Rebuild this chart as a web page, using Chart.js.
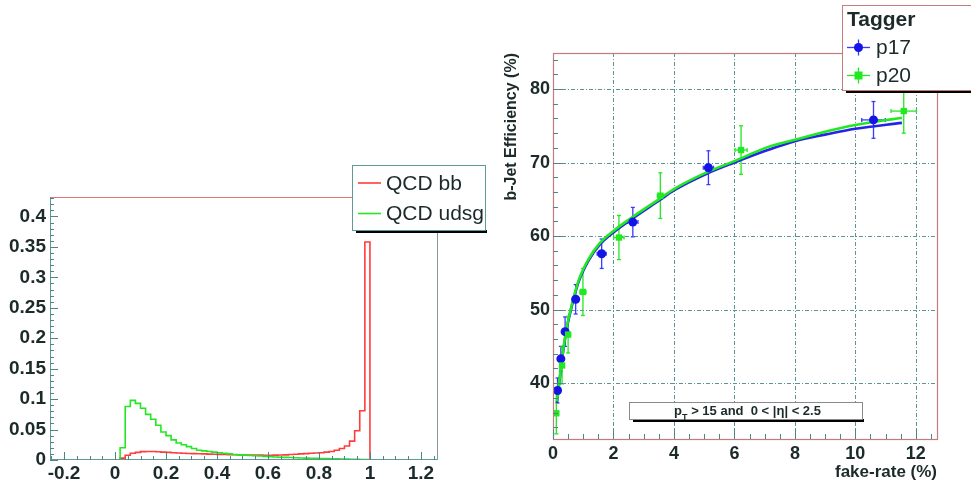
<!DOCTYPE html>
<html>
<head>
<meta charset="utf-8">
<title>b-tagging: NN output and b-jet efficiency vs fake-rate</title>
<script src="https://cdn.jsdelivr.net/npm/chart.js@4"></script>
<style>
    html, body { margin: 0; padding: 0; background: #fff; }
    #wrap { position: relative; width: 971px; height: 485px; overflow: hidden; }
    #histChart { position: absolute; left: 0; top: 0; }
    #effChart { position: absolute; left: 490px; top: 0; }
</style>
</head>
<body>
<div id="wrap">
    <canvas id="histChart" width="490" height="485"></canvas>
    <canvas id="effChart" width="481" height="485"></canvas>
</div>
<script>
// ---- left panel: NN output histograms (bins of 0.02, first bin starts at 0.02) ----
const BIN_LOW = 0.02;
const BIN_WIDTH = 0.02;
const HIST_X_MIN = -0.255;
const HIST_X_MAX = 1.263;
const HIST_Y_MAX = 0.432;

const BB_VALUES = [
    0.003, 0.0077, 0.011, 0.0126, 0.0137, 0.014, 0.014, 0.0135, 0.013, 0.0125,
    0.012, 0.0115, 0.011, 0.0108, 0.0105, 0.0102, 0.010, 0.0097, 0.0095, 0.0092,
    0.009, 0.0088, 0.0086, 0.0084, 0.0082, 0.0081, 0.008, 0.008, 0.0079, 0.0079,
    0.008, 0.0082, 0.0085, 0.009, 0.0095, 0.010, 0.0105, 0.011, 0.0115, 0.012,
    0.013, 0.014, 0.016, 0.019, 0.023, 0.031, 0.048, 0.081, 0.358
];
const UDSG_VALUES = [
    0.020, 0.088, 0.098, 0.093, 0.085, 0.075, 0.067, 0.057, 0.046, 0.040,
    0.033, 0.028, 0.025, 0.022, 0.019, 0.016, 0.015, 0.014, 0.013, 0.012,
    0.011, 0.010, 0.009, 0.0085, 0.008, 0.0075, 0.007, 0.0065, 0.006, 0.0055,
    0.005, 0.0046, 0.0043, 0.004, 0.0037, 0.0034, 0.0031, 0.0029, 0.0027, 0.0025,
    0.0023, 0.0021, 0.0019, 0.0017, 0.0015, 0.0013, 0.0011, 0.0009, 0.0006
];
const HIST_X_TICKS = [-0.2, 0, 0.2, 0.4, 0.6, 0.8, 1, 1.2];
const HIST_X_LABELS = ['-0.2', '0', '0.2', '0.4', '0.6', '0.8', '1', '1.2'];
const HIST_Y_TICKS = [0, 0.05, 0.1, 0.15, 0.2, 0.25, 0.3, 0.35, 0.4];
const HIST_Y_LABELS = ['0', '0.05', '0.1', '0.15', '0.2', '0.25', '0.3', '0.35', '0.4'];

// ---- right panel: b-jet efficiency vs fake-rate ----
const P17_X = [0.15, 0.26, 0.40, 0.75, 1.61, 2.64, 5.14, 10.6];
const P17_Y = [39.0, 43.3, 47.0, 51.4, 57.6, 61.9, 69.3, 75.8];
const P17_EX = [0.05, 0.06, 0.08, 0.10, 0.15, 0.17, 0.17, 0.39];
const P17_EY = [1.7, 1.7, 2.0, 2.0, 2.0, 2.0, 2.3, 2.5];

const P20_X = [0.11, 0.30, 0.50, 0.99, 2.18, 3.55, 6.22, 11.6];
const P20_Y = [35.9, 42.4, 46.6, 52.4, 59.8, 65.5, 71.7, 77.0];
const P20_EX = [0.04, 0.06, 0.08, 0.10, 0.17, 0.10, 0.20, 0.42];
const P20_EY = [2.8, 2.5, 2.5, 3.2, 3.0, 3.1, 3.3, 3.0];

const FIT_X = [0.13, 0.24, 0.35, 0.46, 0.63, 0.85, 1.18, 1.56, 2.0, 2.6, 3.5, 4.0, 5.1, 6.0, 7.1, 8.0, 9.0, 10.0, 11.54];
const FIT_P17 = [37.3, 41.2, 44.7, 47.5, 50.6, 53.8, 56.7, 58.9, 60.5, 62.3, 64.8, 66.2, 68.5, 70.0, 71.7, 72.9, 73.8, 74.6, 75.4];
const FIT_P20 = [37.5, 41.4, 44.9, 47.7, 50.8, 54.0, 56.9, 59.1, 60.7, 62.5, 65.0, 66.4, 68.7, 70.2, 72.1, 73.1, 74.2, 75.1, 76.1];

const EFF_X_MIN = 0;
const EFF_X_MAX = 12.7;
const EFF_Y_MIN = 32.4;
const EFF_Y_MAX = 84.9;
const EFF_X_TICKS = [0, 2, 4, 6, 8, 10, 12];
const EFF_X_LABELS = ['0', '2', '4', '6', '8', '10', '12'];
const EFF_Y_TICKS = [40, 50, 60, 70, 80];
const EFF_Y_LABELS = ['40', '50', '60', '70', '80'];

const FONT = '"Liberation Sans", Arial, Helvetica, sans-serif';
const TEXT_COLOR = '#1c2a2a';
const RED = '#ff3c3c';
const GREEN = '#22e822';
const BLUE = '#1414e6';

/** bin contents -> step outline points, with the empty range drawn along zero */
function histPoints(values) {
    const pts = [{ x: HIST_X_MIN, y: 0 }];
    values.forEach((v, i) => pts.push({ x: BIN_LOW + i * BIN_WIDTH, y: v }));
    pts.push({ x: BIN_LOW + values.length * BIN_WIDTH, y: 0 });
    pts.push({ x: HIST_X_MAX, y: 0 });
    return pts;
}

function zip(xs, ys) {
    return xs.map((x, i) => ({ x, y: ys[i] }));
}

function line(ctx, x1, y1, x2, y2) {
    ctx.beginPath();
    ctx.moveTo(x1, y1);
    ctx.lineTo(x2, y2);
    ctx.stroke();
}

/** white box with the ROOT style black shadow underneath */
function shadowBox(ctx, x, y, w, h, border) {
    ctx.fillStyle = '#000';
    ctx.fillRect(x + 4, y + h, w - 2, 3);
    ctx.fillStyle = '#fff';
    ctx.fillRect(x, y, w, h);
    ctx.strokeStyle = border;
    ctx.lineWidth = 1;
    ctx.strokeRect(x + 0.5, y + 0.5, w, h);
}

/** inward tick marks along bottom and left axes */
function drawTicks(ctx, chart, cfg) {
    const { left, bottom } = chart.chartArea;
    const xs = chart.scales.x;
    const ys = chart.scales.y;
    ctx.strokeStyle = cfg.color;
    ctx.lineWidth = 1;
    for (let k = 0; ; k++) {
        const v = cfg.x.from + k * cfg.x.minor;
        if (v > cfg.x.to + 1e-9) break;
        const major = Math.abs(v / cfg.x.major - Math.round(v / cfg.x.major)) < 1e-6;
        const px = Math.round(xs.getPixelForValue(v)) + 0.5;
        line(ctx, px, bottom, px, bottom - (major ? cfg.majorLen : cfg.minorLen));
    }
    for (let k = 0; ; k++) {
        const v = cfg.y.from + k * cfg.y.minor;
        if (v > cfg.y.to + 1e-9) break;
        const major = Math.abs(v / cfg.y.major - Math.round(v / cfg.y.major)) < 1e-6;
        const py = Math.round(ys.getPixelForValue(v)) + 0.5;
        line(ctx, left, py, left + (major ? cfg.majorLen : cfg.minorLen), py);
    }
}

const histDecor = {
    id: 'histDecor',
    afterDatasetsDraw(chart) {
        const { ctx, chartArea: a } = chart;
        ctx.save();
        // frame
        ctx.lineWidth = 1;
        ctx.strokeStyle = '#e07878';
        line(ctx, a.left, Math.round(a.top) + 0.5, a.right, Math.round(a.top) + 0.5);
        ctx.strokeStyle = '#8a9898';
        line(ctx, Math.round(a.right) + 0.5, a.top, Math.round(a.right) + 0.5, a.bottom);
        ctx.strokeStyle = '#5f9a9a';
        line(ctx, Math.round(a.left) + 0.5, a.top, Math.round(a.left) + 0.5, a.bottom);
        line(ctx, a.left, Math.round(a.bottom) - 0.5, a.right, Math.round(a.bottom) - 0.5);

        drawTicks(ctx, chart, {
            color: '#4f8585', majorLen: 8, minorLen: 4,
            x: { from: -0.25, to: 1.25, minor: 0.05, major: 0.2 },
            y: { from: 0, to: 0.43, minor: 0.01, major: 0.05 }
        });

        // legend
        shadowBox(ctx, 352, 165, 133, 65, '#5f9a9a');
        ctx.font = '21px ' + FONT;
        ctx.textBaseline = 'middle';
        ctx.fillStyle = TEXT_COLOR;
        ctx.lineWidth = 1.6;
        ctx.strokeStyle = RED;
        line(ctx, 358, 183, 381, 183);
        ctx.strokeStyle = GREEN;
        line(ctx, 358, 213.5, 381, 213.5);
        ctx.fillText('QCD bb', 386, 184);
        ctx.fillText('QCD udsg', 386, 214);
        ctx.restore();
    }
};

const effDecor = {
    id: 'effDecor',
    beforeDatasetsDraw(chart) {
        const { ctx, chartArea: a, scales: { x, y } } = chart;
        ctx.save();
        // dash-dot grid at the labelled values
        ctx.strokeStyle = '#5c9494';
        ctx.lineWidth = 1;
        ctx.setLineDash([4, 2, 1, 2]);
        EFF_X_TICKS.forEach(v => {
            if (v <= EFF_X_MIN) return;
            const px = Math.round(x.getPixelForValue(v)) + 0.5;
            line(ctx, px, a.top, px, a.bottom);
        });
        EFF_Y_TICKS.forEach(v => {
            const py = Math.round(y.getPixelForValue(v)) + 0.5;
            line(ctx, a.left, py, a.right, py);
        });
        ctx.setLineDash([]);

        // error bars under the markers
        chart.data.datasets.forEach(ds => {
            if (!ds.errY) return;
            ctx.strokeStyle = ds.errColor;
            ctx.lineWidth = 1.3;
            ds.data.forEach((p, i) => {
                const px = x.getPixelForValue(p.x);
                const py = y.getPixelForValue(p.y);
                const yLo = y.getPixelForValue(p.y - ds.errY[i]);
                const yHi = y.getPixelForValue(p.y + ds.errY[i]);
                const xLo = x.getPixelForValue(p.x - ds.errX[i]);
                const xHi = x.getPixelForValue(p.x + ds.errX[i]);
                line(ctx, px, yLo, px, yHi);
                line(ctx, px - 2, yLo, px + 2, yLo);
                line(ctx, px - 2, yHi, px + 2, yHi);
                line(ctx, xLo, py, xHi, py);
                line(ctx, xLo, py - 2, xLo, py + 2);
                line(ctx, xHi, py - 2, xHi, py + 2);
            });
        });
        ctx.restore();
    },
    afterDatasetsDraw(chart) {
        const { ctx, chartArea: a } = chart;
        ctx.save();
        // frame
        ctx.strokeStyle = '#c27c7c';
        ctx.lineWidth = 1.2;
        ctx.strokeRect(Math.round(a.left) + 0.5, Math.round(a.top) + 0.5,
            Math.round(a.right - a.left), Math.round(a.bottom - a.top));

        drawTicks(ctx, chart, {
            color: '#4f8585', majorLen: 10, minorLen: 5,
            x: { from: 0, to: 12.5, minor: 0.5, major: 2 },
            y: { from: 34, to: 84, minor: 2, major: 10 }
        });

        // cut label box
        const bx = a.left + 76, by = 402, bw = 233, bh = 17;
        shadowBox(ctx, bx, by, bw, bh, '#8a8a8a');
        ctx.fillStyle = TEXT_COLOR;
        ctx.textBaseline = 'alphabetic';
        ctx.font = 'bold 13px ' + FONT;
        const part1 = 'p';
        const part2 = ' > 15 and  0 < |\u03b7| < 2.5';
        const w1 = ctx.measureText(part1).width;
        const w2 = ctx.measureText(part2).width;
        ctx.font = 'bold 9px ' + FONT;
        const wSub = ctx.measureText('T').width;
        let tx = bx + bw / 2 + 2 - (w1 + wSub + w2) / 2;
        ctx.font = 'bold 13px ' + FONT;
        ctx.fillText(part1, tx, by + 13);
        ctx.font = 'bold 9px ' + FONT;
        ctx.fillText('T', tx + w1, by + 18);
        ctx.font = 'bold 13px ' + FONT;
        ctx.fillText(part2, tx + w1 + wSub, by + 13);

        // legend (runs off the right edge like the original)
        shadowBox(ctx, 352, 5, 140, 85, '#c27c7c');
        ctx.textBaseline = 'middle';
        ctx.fillStyle = TEXT_COLOR;
        ctx.font = 'bold 21px ' + FONT;
        ctx.fillText('Tagger', 357, 20);
        ctx.font = '21px ' + FONT;
        ctx.fillText('p17', 386, 48);
        ctx.fillText('p20', 386, 76);
        ctx.lineWidth = 1.3;
        ctx.strokeStyle = '#3a3aff';
        line(ctx, 357, 47.5, 380, 47.5);
        line(ctx, 368.5, 39.5, 368.5, 55.5);
        ctx.fillStyle = BLUE;
        ctx.beginPath();
        ctx.arc(368.5, 47.5, 4.5, 0, Math.PI * 2);
        ctx.fill();
        ctx.strokeStyle = GREEN;
        line(ctx, 357, 75.5, 380, 75.5);
        line(ctx, 368.5, 67.5, 368.5, 83.5);
        ctx.fillStyle = GREEN;
        ctx.fillRect(364.5, 71.5, 8, 8);
        ctx.restore();
    }
};

const tickFont = size => ({ family: FONT, size, weight: 'bold' });

function fixedTicks(values) {
    return scale => { scale.ticks = values.map(v => ({ value: v })); };
}

new Chart(document.getElementById('histChart'), {
    type: 'scatter',
    data: {
        datasets: [{
            label: 'QCD bb',
            data: histPoints(BB_VALUES),
            showLine: true,
            stepped: true,
            borderColor: RED,
            borderWidth: 1.6,
            pointRadius: 0,
            order: 1
        }, {
            label: 'QCD udsg',
            data: histPoints(UDSG_VALUES),
            showLine: true,
            stepped: true,
            borderColor: GREEN,
            borderWidth: 1.6,
            pointRadius: 0,
            order: 0
        }]
    },
    options: {
        responsive: false,
        animation: false,
        events: [],
        layout: { padding: { top: 197, right: 53, left: 0, bottom: 0 } },
        plugins: { legend: { display: false }, tooltip: { enabled: false } },
        scales: {
            x: {
                type: 'linear',
                min: HIST_X_MIN,
                max: HIST_X_MAX,
                afterBuildTicks: fixedTicks(HIST_X_TICKS),
                afterFit: s => { s.height = 25; },
                grid: { display: false, drawTicks: false },
                border: { display: false },
                ticks: {
                    autoSkip: false, maxRotation: 0, padding: 2,
                    color: TEXT_COLOR, font: tickFont(19),
                    callback: (v, i) => HIST_X_LABELS[i]
                }
            },
            y: {
                type: 'linear',
                min: 0,
                max: HIST_Y_MAX,
                afterBuildTicks: fixedTicks(HIST_Y_TICKS),
                afterFit: s => { s.width = 50; },
                grid: { display: false, drawTicks: false },
                border: { display: false },
                ticks: {
                    autoSkip: false, padding: 4,
                    color: TEXT_COLOR, font: tickFont(19),
                    callback: (v, i) => HIST_Y_LABELS[i]
                }
            }
        }
    },
    plugins: [histDecor]
});

new Chart(document.getElementById('effChart'), {
    type: 'scatter',
    data: {
        datasets: [{
            label: 'p17',
            data: zip(P17_X, P17_Y),
            errX: P17_EX,
            errY: P17_EY,
            errColor: '#3a3aff',
            pointStyle: 'circle',
            pointRadius: 4.5,
            backgroundColor: BLUE,
            borderColor: BLUE,
            borderWidth: 0,
            order: 1
        }, {
            label: 'p20',
            data: zip(P20_X, P20_Y),
            errX: P20_EX,
            errY: P20_EY,
            errColor: GREEN,
            pointStyle: 'rect',
            pointRadius: 4.5,
            backgroundColor: GREEN,
            borderColor: GREEN,
            borderWidth: 0,
            order: 0
        }, {
            label: 'fit p20',
            data: zip(FIT_X, FIT_P20),
            showLine: true,
            cubicInterpolationMode: 'monotone',
            borderColor: GREEN,
            borderWidth: 2.6,
            pointRadius: 0,
            order: 2
        }, {
            label: 'fit p17',
            data: zip(FIT_X, FIT_P17),
            showLine: true,
            cubicInterpolationMode: 'monotone',
            borderColor: '#2424e8',
            borderWidth: 2.6,
            pointRadius: 0,
            order: 3
        }]
    },
    options: {
        responsive: false,
        animation: false,
        events: [],
        layout: { padding: { top: 53, right: 34, left: 0, bottom: 0 } },
        plugins: { legend: { display: false }, tooltip: { enabled: false } },
        scales: {
            x: {
                type: 'linear',
                min: EFF_X_MIN,
                max: EFF_X_MAX,
                afterBuildTicks: fixedTicks(EFF_X_TICKS),
                afterFit: s => { s.height = 46; },
                grid: { display: false, drawTicks: false },
                border: { display: false },
                title: {
                    display: true,
                    text: 'fake-rate (%)',
                    align: 'end',
                    color: TEXT_COLOR,
                    font: tickFont(17),
                    padding: { top: 0, bottom: 2 }
                },
                ticks: {
                    autoSkip: false, maxRotation: 0, padding: 4,
                    color: TEXT_COLOR, font: tickFont(18),
                    callback: (v, i) => EFF_X_LABELS[i]
                }
            },
            y: {
                type: 'linear',
                min: EFF_Y_MIN,
                max: EFF_Y_MAX,
                afterBuildTicks: fixedTicks(EFF_Y_TICKS),
                afterFit: s => { s.width = 63; },
                grid: { display: false, drawTicks: false },
                border: { display: false },
                title: {
                    display: true,
                    text: 'b-Jet Efficiency (%)',
                    align: 'end',
                    color: TEXT_COLOR,
                    font: tickFont(16),
                    padding: { top: 12, bottom: 0 }
                },
                ticks: {
                    autoSkip: false, padding: 3,
                    color: TEXT_COLOR, font: tickFont(18),
                    callback: (v, i) => EFF_Y_LABELS[i]
                }
            }
        }
    },
    plugins: [effDecor]
});
</script>
</body>
</html>
